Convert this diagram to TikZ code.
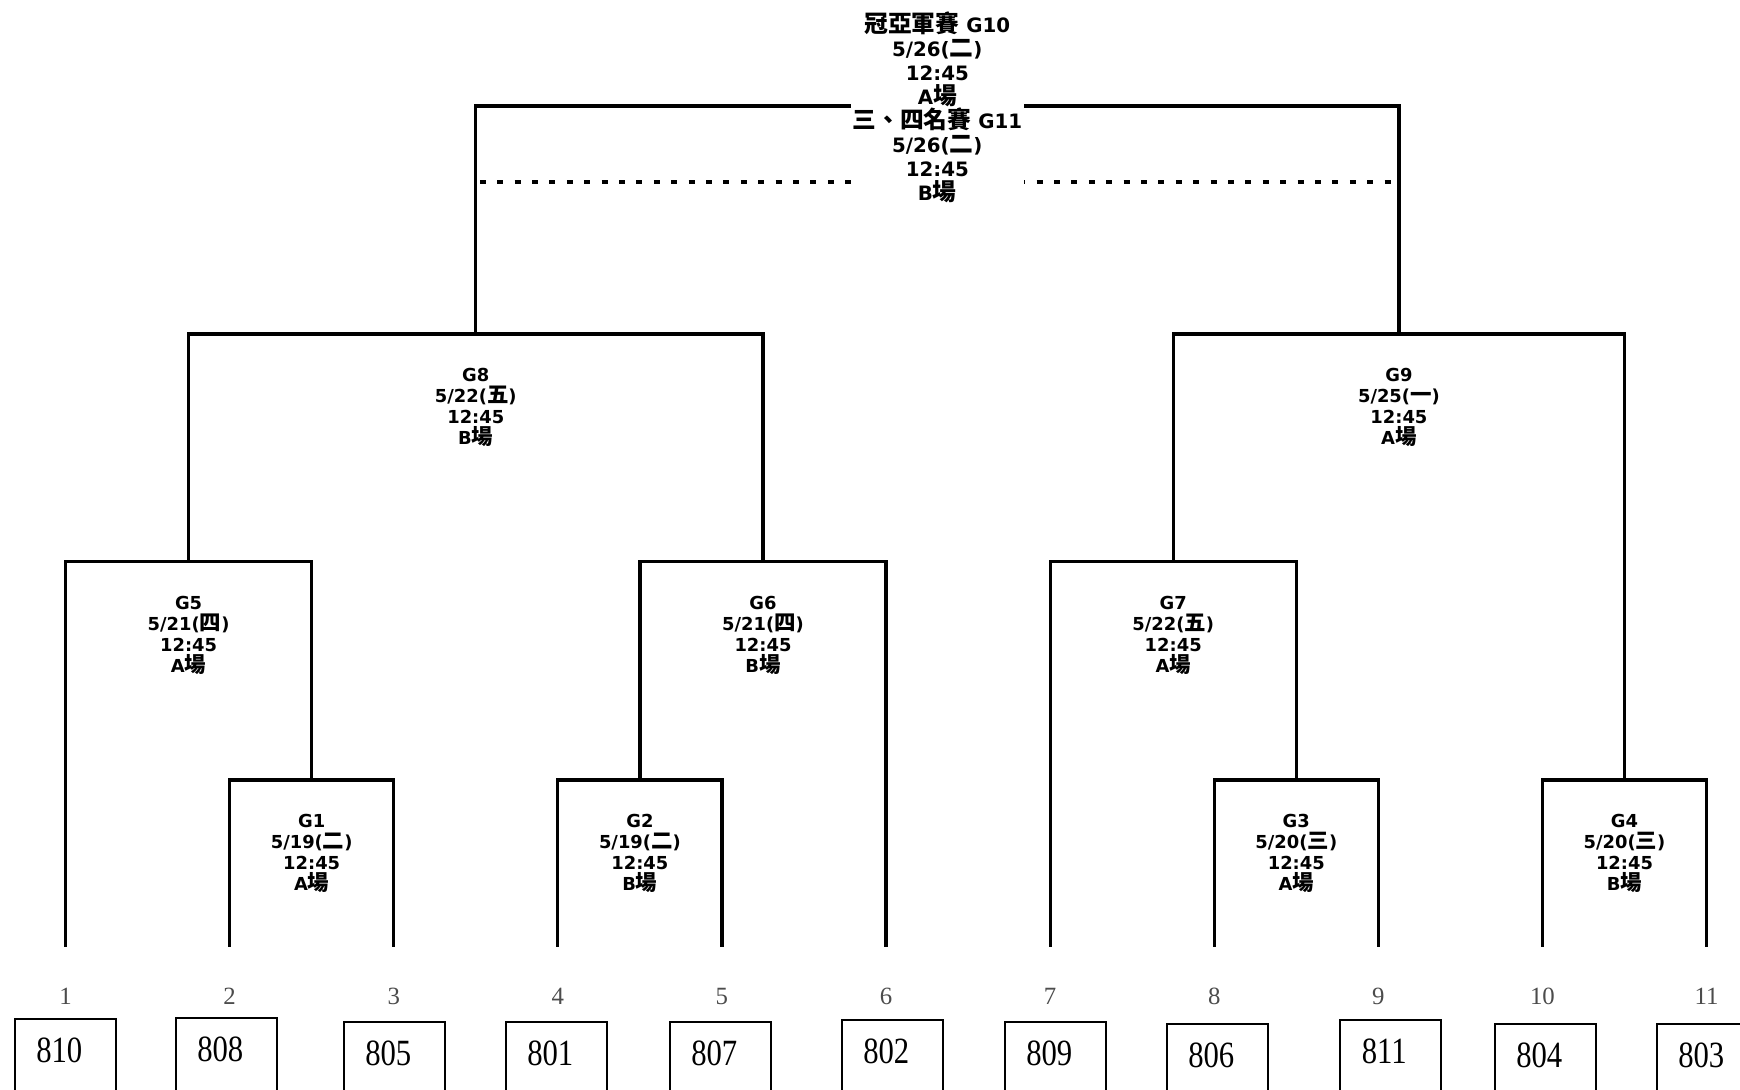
\documentclass[tikz,border=0pt]{standalone}
\usepackage{fontspec}
\usepackage{tikz}
\usetikzlibrary{positioning}
\newfontfamily\gamefont{DejaVu Sans}
\newfontfamily\cjk{Noto Sans CJK TC}[Scale=1.2]
\newfontfamily\seedfont{Liberation Serif}
\newfontfamily\teamfont{Liberation Serif}[FakeStretch=0.83]
\newcommand{\zh}[1]{{\cjk\bfseries #1}}

\begin{document}
\begin{tikzpicture}[x=0.5pt, y=-0.5pt,
    bracket/.style={line width=1.6pt},
    game/.style={align=center, inner sep=0pt, font=\gamefont\bfseries\fontsize{8.95}{10.5}\selectfont},
    seed/.style={text=black!70, inner sep=0pt, font=\seedfont\fontsize{12.4}{14}\selectfont},
    team/.style={draw, line width=0.8pt, anchor=north west, minimum width=50.5pt,
        text height=12.5pt, text depth=40pt, inner ysep=9.25pt,
        execute at end node=\hspace{6pt}, font=\teamfont\fontsize{18.5}{20}\selectfont}]
    \useasboundingbox (0,0) rectangle (1740,1089);
    \clip (0,0) rectangle (1740,1089);

    % Leaves - lower ends of the first round
    \coordinate (l1) at (65.5,946.7);
    \coordinate (l2) at (229.6,946.7);
    \coordinate (l3) at (393.7,946.7);
    \coordinate (l4) at (557.8,946.7);
    \coordinate (l5) at (721.9,946.7);
    \coordinate (l6) at (886,946.7);
    \coordinate (l7) at (1050.1,946.7);
    \coordinate (l8) at (1214.2,946.7);
    \coordinate (l9) at (1378.3,946.7);
    \coordinate (l10) at (1542.4,946.7);
    \coordinate (l11) at (1706.5,946.7);

    % Match points
    \coordinate (m1) at (311.7,780);
    \coordinate (m2) at (639.9,780);
    \coordinate (m3) at (1296.3,780);
    \coordinate (m4) at (1624.5,780);
    \coordinate (m5) at (188.6,561.5);
    \coordinate (m6) at (763,561.5);
    \coordinate (m7) at (1173.2,561.5);
    \coordinate (m8) at (475.8,334);
    \coordinate (m9) at (1398.9,334);
    \coordinate (m10) at (937.3,106);
    \coordinate (m11) at (937.3,182);

    % Brackets
    \draw[bracket] (l2) |- (m1) -| (l3);
    \draw[bracket] (l4) |- (m2) -| (l5);
    \draw[bracket] (l8) |- (m3) -| (l9);
    \draw[bracket] (l10) |- (m4) -| (l11);
    \draw[bracket] (l1) |- (m5) -| (m1);
    \draw[bracket] (m2) |- (m6) -| (l6);
    \draw[bracket] (l7) |- (m7) -| (m3);
    \draw[bracket] (m5) |- (m8) -| (m6);
    \draw[bracket] (m7) |- (m9) -| (m4);
    \draw[bracket] (m8) |- (m10) -| (m9);
    \draw[bracket, dash pattern=on 3pt off 5.7pt] ([xshift=2pt]m8 |- m11) -- ([xshift=-4pt]m9 |- m11);

    % Game labels
    \node[game, below=17pt of m1] (g1) {G1\\5/19(\zh{二})\\12:45\\A\zh{場}};
    \node[game, below=17pt of m2] (g2) {G2\\5/19(\zh{二})\\12:45\\B\zh{場}};
    \node[game, below=17pt of m3] (g3) {G3\\5/20(\zh{三})\\12:45\\A\zh{場}};
    \node[game, below=17pt of m4] (g4) {G4\\5/20(\zh{三})\\12:45\\B\zh{場}};
    \node[game, below=17pt of m5] (g5) {G5\\5/21(\zh{四})\\12:45\\A\zh{場}};
    \node[game, below=17pt of m6] (g6) {G6\\5/21(\zh{四})\\12:45\\B\zh{場}};
    \node[game, below=17pt of m7] (g7) {G7\\5/22(\zh{五})\\12:45\\A\zh{場}};
    \node[game, below=17pt of m8] (g8) {G8\\5/22(\zh{五})\\12:45\\B\zh{場}};
    \node[game, below=17pt of m9] (g9) {G9\\5/25(\zh{一})\\12:45\\A\zh{場}};

    % Final and third place
    \node[game, fill=white, inner xsep=1pt, anchor=north,
        font=\gamefont\bfseries\fontsize{9.9}{12}\selectfont] (g10) at (937.3,11)
        {\zh{冠亞軍賽} G10\\5/26(\zh{二})\\12:45\\A\zh{場}\\\zh{三、四名賽} G11\\5/26(\zh{二})\\12:45\\B\zh{場}};

    % Seeds
    \node[seed] (n1) at (65.5,996.7) {1};
    \node[seed] (n2) at (229.6,996.7) {2};
    \node[seed] (n3) at (393.7,996.7) {3};
    \node[seed] (n4) at (557.8,996.7) {4};
    \node[seed] (n5) at (721.9,996.7) {5};
    \node[seed] (n6) at (886,996.7) {6};
    \node[seed] (n7) at (1050.1,996.7) {7};
    \node[seed] (n8) at (1214.2,996.7) {8};
    \node[seed] (n9) at (1378.3,996.7) {9};
    \node[seed] (n10) at (1542.4,996.7) {10};
    \node[seed] (n11) at (1706.5,996.7) {11};

    % Teams
    \node[team] (t1) at (14,1018) {810};
    \node[team] (t2) at (175,1017) {808};
    \node[team] (t3) at (343,1021) {805};
    \node[team] (t4) at (505,1021) {801};
    \node[team] (t5) at (669,1021) {807};
    \node[team] (t6) at (841,1019) {802};
    \node[team] (t7) at (1004,1021) {809};
    \node[team] (t8) at (1166,1023) {806};
    \node[team] (t9) at (1339,1019) {811};
    \node[team] (t10) at (1494,1023) {804};
    \node[team] (t11) at (1656,1023) {803};
\end{tikzpicture}
\end{document}
